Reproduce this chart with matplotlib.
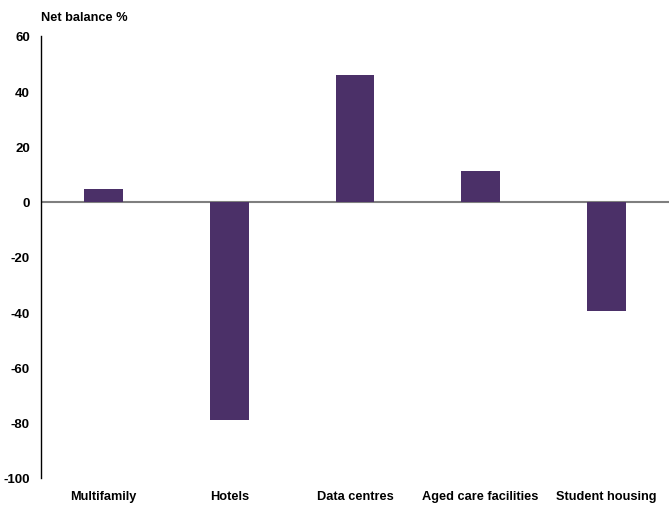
import numpy as np
import matplotlib.pyplot as plt

plt.rcParams['font.family'] = ['Liberation Sans', 'DejaVu Sans']
plt.rcParams['font.weight'] = 'bold'

categories = ["Multifamily", "Hotels", "Data centres", "Aged care facilities", "Student housing"]
net_balance = [4.5, -79, 46, 11.3, -39.5]
y_ticks = [-100, -80, -60, -40, -20, 0, 20, 40, 60]

fig = plt.figure(figsize=(6.69, 5.06), dpi=100)
ax = fig.add_axes([0.0613, 0.0534, 0.9387, 0.8735])

x = np.arange(len(categories))
ax.bar(x, net_balance, width=0.31, color="#4b3068", zorder=2)
ax.axhline(0, color="#7f7f7f", linewidth=1.5, zorder=1)

ax.set_xlim(-0.5, len(categories) - 0.5)
ax.set_ylim(-100, 60)
ax.set_yticks(y_ticks)
ax.set_yticklabels([str(v) for v in y_ticks], fontsize=9.5, fontweight="bold")
ax.set_xticks(x)
ax.set_xticklabels(categories, fontsize=9.2, fontweight="bold")
ax.tick_params(axis="both", length=0)
ax.tick_params(axis="y", pad=8)
ax.tick_params(axis="x", pad=9)

for s in ["top", "right", "bottom"]:
    ax.spines[s].set_visible(False)
ax.spines["left"].set_linewidth(1.0)
ax.spines["left"].set_color("black")

fig.text(0.061, 0.965, "Net balance %", fontsize=9.2, fontweight="bold", ha="left", va="center")

fig.savefig("out.png", dpi=100)
